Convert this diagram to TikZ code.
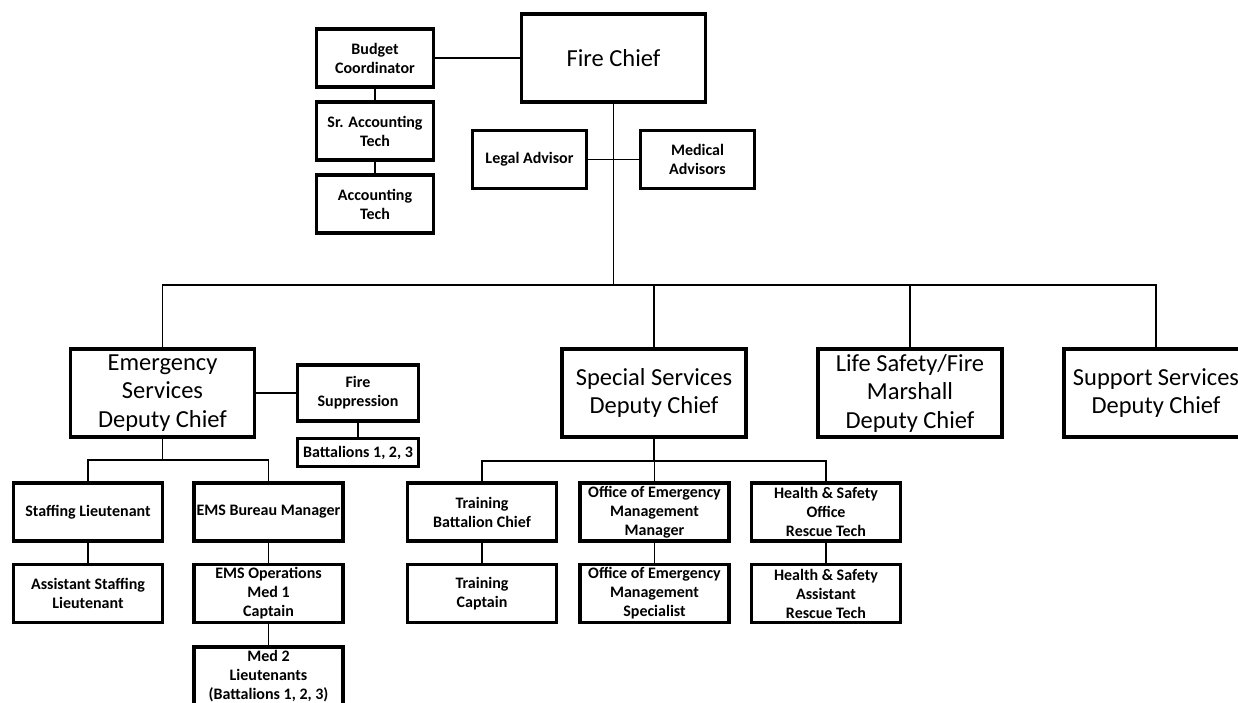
\documentclass[tikz,border=0pt]{standalone}
\usepackage{fontspec}
\setmainfont{Carlito}
\usetikzlibrary{positioning}
\tikzset{office/.style={draw, line width=3.4pt, minimum width=#1, minimum height=58pt, inner sep=1pt, align=center, font=\fontsize{16}{19}\selectfont\bfseries}}
\tikzset{office/.default=149pt}
\tikzset{deputy/.style={draw, line width=3.4pt, minimum width=184pt, minimum height=88pt, inner sep=1pt, align=center, font=\fontsize{24.5}{28.5}\selectfont}}
\tikzset{tie/.style={line width=1.6pt}}

\begin{document}
\begin{tikzpicture}[x=1pt, y=-1pt]
\useasboundingbox (0,0) rectangle (1238,703);
\clip (0,0) rectangle (1238,703);
\begin{scope}[on grid]

\node[deputy] (chief) at (613.5,58) {Fire Chief};
\node[office=117pt] (budget) at (375,58) {Budget\\Coordinator};
\node[office=117pt] (sracct) [below=73pt of budget] {Sr. Accounting\\Tech};
\node[office=117pt] (acct) [below=73pt of sracct] {Accounting\\Tech};
\node[office=114pt] (legal) at (529.5,159.5) {Legal Advisor};
\node[office=114pt] (medical) at (697.5,159.5) {Medical\\Advisors};

\node[deputy] (emerg) at (162.5,393) {Emergency\\Services\\Deputy Chief};
\node[deputy] (special) at (654,393) {Special Services\\Deputy Chief};
\node[deputy] (life) at (910,393) {Life Safety/Fire\\Marshall\\Deputy Chief};
\node[deputy] (support) at (1156,393) {Support Services\\Deputy Chief};

\node[office=121pt, minimum height=56pt] (suppr) at (358,393) {Fire\\Suppression};
\node[office=121pt, minimum height=28pt] (batt) at (358,452.5) {Battalions 1, 2, 3};

\node[office] (staff) at (88,512) {Staffing Lieutenant};
\node[office] (asstaff) [below=81.5pt of staff] {Assistant Staffing\\Lieutenant};
\node[office] (emsbm) at (268.5,512) {EMS Bureau Manager};
\node[office] (emsops) [below=81.5pt of emsbm] {EMS Operations\\Med 1\\Captain};
\node[office] (med2) [below=82.5pt of emsops] {Med 2\\Lieutenants\\(Battalions 1, 2, 3)};

\node[office] (training) at (482,512) {Training\\Battalion Chief};
\node[office] (trcapt) [below=81.5pt of training] {Training\\Captain};
\node[office] (oemmgr) at (654.5,512) {Office of Emergency\\Management\\Manager};
\node[office] (oemspec) [below=81.5pt of oemmgr] {Office of Emergency\\Management\\Specialist};
\node[office] (hsoff) at (826,512) {Health \& Safety\\Office\\Rescue Tech};
\node[office] (hsasst) [below=81.5pt of hsoff] {Health \& Safety\\Assistant\\Rescue Tech};

\coordinate (bus) at (613.5,285);
\coordinate (esbus) at (162.5,460);
\coordinate (ssbus) at (654,461);
\end{scope}

\draw[tie] (budget) -- (chief);
\draw[tie] (budget) -- (sracct);
\draw[tie] (sracct) -- (acct);
\draw[tie] (chief) -- (bus);
\draw[tie] (legal) -- (medical);
\foreach \n in {emerg, special, life, support}
  \draw[tie] (bus) -| (\n);

\draw[tie] (emerg) -- (suppr);
\draw[tie] (suppr) -- (batt);
\draw[tie] (emerg) -- (esbus);
\draw[tie] (esbus) -| (staff);
\draw[tie] (esbus) -| (emsbm);
\draw[tie] (staff) -- (asstaff);
\draw[tie] (emsbm) -- (emsops);
\draw[tie] (emsops) -- (med2);

\draw[tie] (special) -- (ssbus);
\foreach \n in {training, oemmgr, hsoff}
  \draw[tie] (ssbus) -| (\n);
\draw[tie] (training) -- (trcapt);
\draw[tie] (oemmgr) -- (oemspec);
\draw[tie] (hsoff) -- (hsasst);
\end{tikzpicture}
\end{document}
